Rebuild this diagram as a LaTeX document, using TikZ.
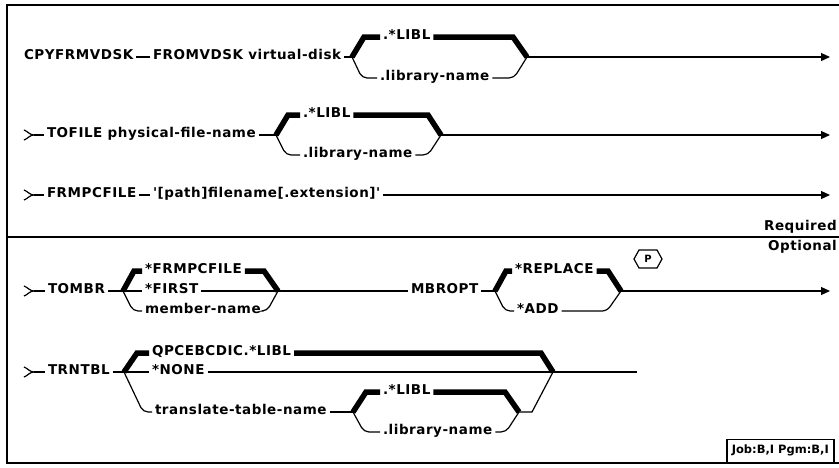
\documentclass[tikz,border=0pt]{standalone}
\usepackage{fontspec}
\usetikzlibrary{arrows.meta,calc}
\newfontfamily\dfont[LetterSpace=4,BoldFont={DejaVu Sans Bold}]{DejaVu Sans}
\newfontfamily\jfont[BoldFont={DejaVu Sans Bold}]{DejaVu Sans}
\begin{document}
\begin{tikzpicture}[x=1pt,y=-1pt,
  lbl/.style={font=\dfont\bfseries\fontsize{13.5}{15}\selectfont, inner sep=0pt, outer xsep=3pt, outer ysep=0pt, anchor=mid west},
  hdr/.style={font=\dfont\bfseries\fontsize{13.5}{15}\selectfont, inner sep=0pt, anchor=mid east},
  thn/.style={line width=1.2pt},
  thk/.style={line width=5.5pt},
  arr/.style={thn,-{Triangle[length=9pt,width=8pt]}},
  framel/.style={line width=1.8pt},
  startmark/.pic={\draw[thn] (-10,-5) to[out=-20,in=180] (0,0) (-10,5) to[out=20,in=180] (0,0);}]
\useasboundingbox (0,0) rectangle (839,467);
% frame
\draw[framel] (839,5) -- (7,5) -- (7,463) -- (839,463);
\draw[line width=1.5pt] (7,237) -- (839,237);
\node[hdr] (req) at (837,228) {Required};
\node[hdr] (opt) at (837,248) {Optional};
% ---------- row 1
\node[lbl] (cpy) at (21,57) {CPYFRMVDSK};
\node[lbl] (fromv) at (150,57) {FROMVDSK virtual-disk};
\coordinate (j1l) at (352,57);
\coordinate (j1r) at (527,57);
\coordinate (e1) at (830,57);
\node[lbl] (r1a) at (380,37) {.*LIBL};
\node[lbl] (r1b) at (377,78) {.library-name};
\draw[thn] (cpy.mid east) -- (fromv.mid west);
\draw[thn] (fromv.mid east) -- (j1l);
\draw[thk] (j1l) -- (364,37) -- (r1a.mid west);
\draw[thk] (r1a.mid east) -- (513,37) -- (j1r);
\draw[thn,rounded corners=5pt] (j1l) -- (362,78) -- (r1b.mid west);
\draw[thn,rounded corners=5pt] (r1b.mid east) -- (514,78) -- (j1r);
\draw[arr] (j1r) -- (e1);
% ---------- row 2
\pic at (34,135) {startmark};
\coordinate (s2) at (34,135);
\node[lbl] (tofile) at (44,135) {TOFILE physical-file-name};
\coordinate (j2l) at (276,135);
\coordinate (j2r) at (441,135);
\coordinate (e2) at (830,135);
\node[lbl] (r2a) at (300,115) {.*LIBL};
\node[lbl] (r2b) at (300,155) {.library-name};
\draw[thn] (s2) -- (tofile.mid west);
\draw[thn] (tofile.mid east) -- (j2l);
\draw[thk] (j2l) -- (288,115) -- (r2a.mid west);
\draw[thk] (r2a.mid east) -- (428,115) -- (j2r);
\draw[thn,rounded corners=5pt] (j2l) -- (286,155) -- (r2b.mid west);
\draw[thn,rounded corners=5pt] (r2b.mid east) -- (428,155) -- (j2r);
\draw[arr] (j2r) -- (e2);
% ---------- row 3
\pic at (34,195) {startmark};
\coordinate (s3) at (34,195);
\coordinate (e3) at (830,195);
\node[lbl] (frmpc) at (44,195) {FRMPCFILE};
\node[lbl] (pathn) at (150,195) {'[path]filename[.extension]'};
\draw[thn] (s3) -- (frmpc.mid west);
\draw[thn] (frmpc.mid east) -- (pathn.mid west);
\draw[arr] (pathn.mid east) -- (e3);
% ---------- row 4
\pic at (34,291) {startmark};
\coordinate (s4) at (34,291);
\node[lbl] (tombr) at (45,291) {TOMBR};
\coordinate (j4l) at (123,291);
\coordinate (j4r) at (278,291);
\node[lbl] (m1) at (142,271) {*FRMPCFILE};
\node[lbl] (m2) at (142,291) {*FIRST};
\node[lbl] (m3) at (142,311) {member-name};
\draw[thn] (s4) -- (tombr.mid west);
\draw[thn] (tombr.mid east) -- (j4l);
\draw[thk] (j4l) -- (134,271) -- (m1.mid west);
\draw[thk] (m1.mid east) -- (264,271) -- (j4r);
\draw[thn] (j4l) -- (m2.mid west);
\draw[thn] (m2.mid east) -- (j4r);
\draw[thn,rounded corners=5pt] (j4l) -- (133,311) -- (m3.mid west);
\draw[thn,rounded corners=5pt] (m3.mid east) -- (267,311) -- (j4r);
\node[lbl] (mbropt) at (408,291) {MBROPT};
\draw[thn] (j4r) -- (mbropt.mid west);
\coordinate (j5l) at (495,291);
\coordinate (j5r) at (621,291);
\coordinate (e4) at (830,291);
\node[lbl] (o1) at (512,271) {*REPLACE};
\node[lbl] (o2) at (514,311) {*ADD};
\draw[thn] (mbropt.mid east) -- (j5l);
\draw[thk] (j5l) -- (506,271) -- (o1.mid west);
\draw[thk] (o1.mid east) -- (608,271) -- (j5r);
\draw[thn,rounded corners=5pt] (j5l) -- (505,311) -- (o2.mid west);
\draw[thn,rounded corners=5pt] (o2.mid east) -- (607,311) -- (j5r);
\draw[arr] (j5r) -- (e4);
\node[font=\jfont\bfseries\fontsize{10}{12}\selectfont, inner sep=0pt] (pm) at (648,259) {P};
\draw[thn] ($(pm)+(-14,0)$) -- ($(pm)+(-9,-9)$) -- ($(pm)+(9,-9)$) -- ($(pm)+(14,0)$) -- ($(pm)+(9,9)$) -- ($(pm)+(-9,9)$) -- cycle;
% ---------- row 5
\pic at (34,372) {startmark};
\coordinate (s5) at (34,372);
\node[lbl] (trn) at (45,372) {TRNTBL};
\coordinate (j6l) at (124,372);
\coordinate (j6r) at (553,372);
\coordinate (e6) at (637,372);
\node[lbl] (t1) at (149,353) {QPCEBCDIC.*LIBL};
\node[lbl] (t2) at (149,372) {*NONE};
\node[lbl] (t3) at (152,412) {translate-table-name};
\draw[thn] (s5) -- (trn.mid west);
\draw[thn] (trn.mid east) -- (j6l);
\draw[thk] (j6l) -- (137,353) -- (t1.mid west);
\draw[thk] (t1.mid east) -- (541,353) -- (j6r);
\draw[thn] (j6l) -- (t2.mid west);
\draw[thn] (t2.mid east) -- (j6r);
\draw[thn] (j6r) -- (e6);
\draw[thn,rounded corners=5pt] (j6l) -- (143,412) -- (t3.mid west);
\coordinate (j7l) at (353,412);
\coordinate (j7r) at (519,412);
\node[lbl] (u1) at (380,392) {.*LIBL};
\node[lbl] (u2) at (380,432) {.library-name};
\draw[thn] (t3.mid east) -- (j7l);
\draw[thk] (j7l) -- (366,392) -- (u1.mid west);
\draw[thk] (u1.mid east) -- (505,392) -- (j7r);
\draw[thn,rounded corners=5pt] (j7l) -- (364,432) -- (u2.mid west);
\draw[thn,rounded corners=5pt] (u2.mid east) -- (506,432) -- (j7r);
\draw[thn] (j7r) -- (532,412) -- (j6r);
% ---------- job box
\node[draw, line width=1.5pt, inner xsep=5pt, inner ysep=0pt, minimum height=23pt, anchor=south west,
  font=\jfont\bfseries\fontsize{11.5}{13}\selectfont] (job) at (726,463) {Job:B,I Pgm:B,I};
\end{tikzpicture}
\end{document}
